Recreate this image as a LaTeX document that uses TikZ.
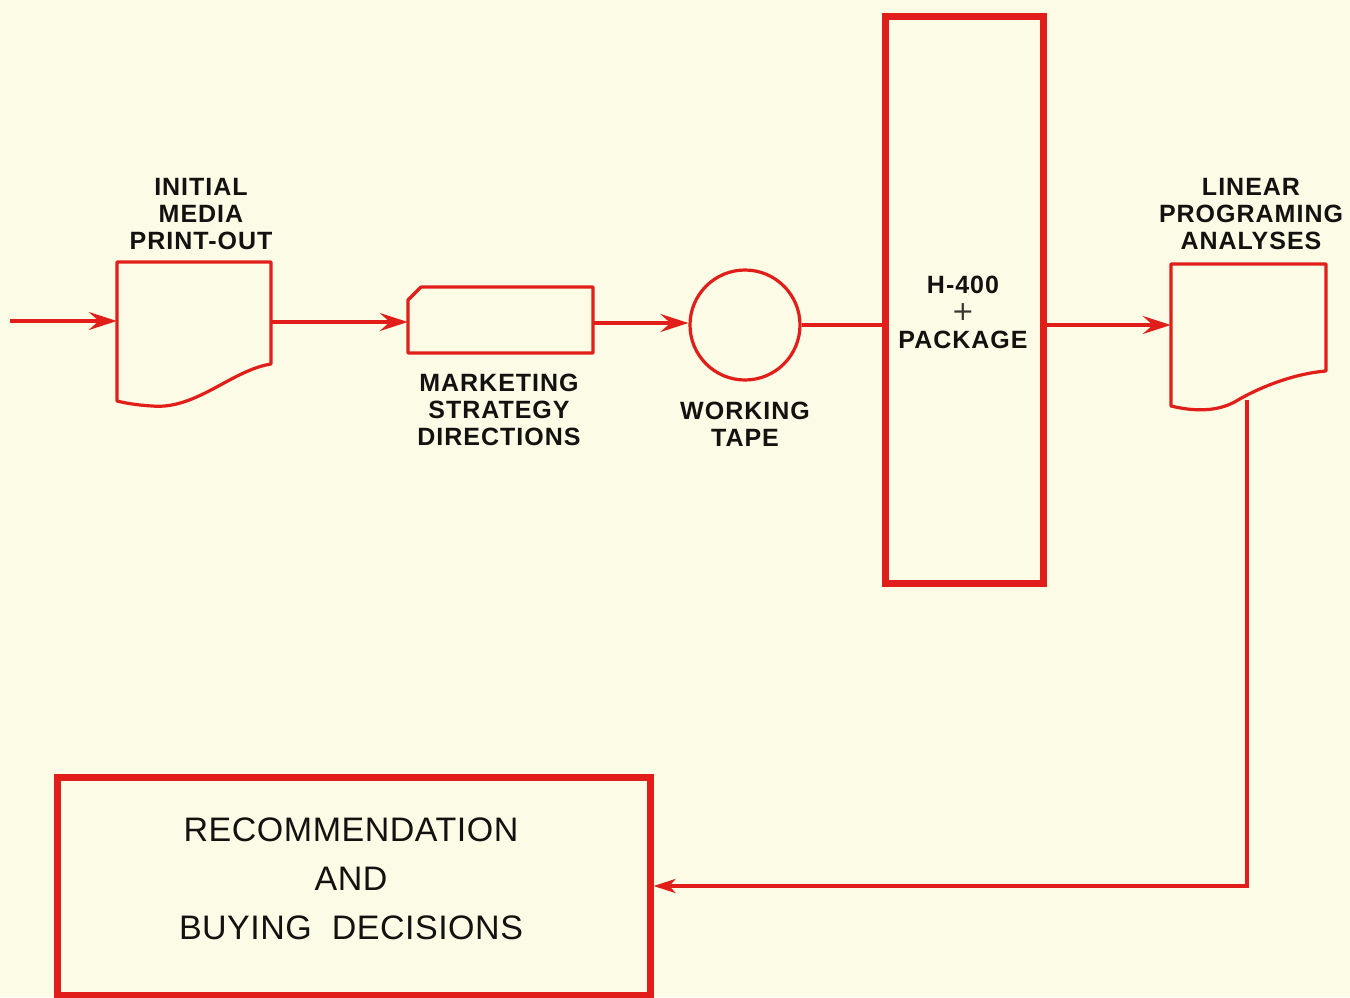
\documentclass[tikz,border=0pt]{standalone}
\usepackage{fontspec}
\setmainfont{Liberation Sans}
\newfontfamily\lblfont[LetterSpace=4]{Liberation Sans}
\newfontfamily\bigfont[LetterSpace=1.5]{Liberation Sans}
\newfontfamily\thinfont{DejaVu Sans}
\usetikzlibrary{arrows.meta}
\definecolor{paper}{HTML}{FCFBE6}
\definecolor{flowred}{HTML}{E11E19}
\definecolor{ink}{HTML}{141210}
\begin{document}
\begin{tikzpicture}[x=1pt,y=-1pt,
  thinline/.style={draw=flowred,line width=3.2pt},
  thickline/.style={draw=flowred,line width=7pt},
  flowarrow/.style={thinline,-{Stealth[length=28pt,width=18pt,inset=10pt]}},
  backarrow/.style={thinline,-{Stealth[length=22pt,width=14pt,inset=6pt]}},
  lbl/.style={text=ink,align=center,font=\lblfont\fontsize{25}{27}\selectfont\bfseries,inner sep=0pt},
  bigtxt/.style={text=ink,align=center,font=\bigfont\fontsize{34}{49}\selectfont,inner sep=0pt},
  ghost/.style={rectangle,inner sep=0pt,draw=none}]
\useasboundingbox (0,0) rectangle (1350,997);
\fill[paper] (0,0) rectangle (1350,997);

% --- Initial media print-out (document shape)
\node[ghost,minimum width=154pt,minimum height=120pt] (doc1) at (194,322) {};
\draw[thinline,line join=round] (117,262) -- (271,262) -- (271,364)
  .. controls (232,370) and (196,410) .. (152,406)
  .. controls (136,405) and (125,403) .. (117,401) -- cycle;
\node[lbl] (doc1lbl) at (201,214) {INITIAL\\MEDIA\\PRINT-OUT};
\coordinate (start) at (10,321);

% --- Marketing strategy directions (card shape)
\node[ghost,minimum width=185pt,minimum height=66pt] (mkt) at (500.5,320) {};
\draw[thinline,line join=round] (408,300) -- (421,287) -- (593,287) -- (593,353) -- (408,353) -- cycle;
\node[lbl] (mktlbl) at (499,410) {MARKETING\\STRATEGY\\DIRECTIONS};

% --- Working tape
\node[circle,thinline,minimum size=110pt,inner sep=0pt] (tape) at (745,325) {};
\node[lbl] (tapelbl) at (745,424) {WORKING\\TAPE};

% --- H-400 + package
\node[rectangle,thickline,minimum width=158pt,minimum height=567pt,inner sep=0pt] (h400) at (964,299.5) {};
\node[lbl] (h400a) at (963,285) {H-400};
\node[text=ink!85,inner sep=0pt,font=\thinfont\fontsize{27}{27}\selectfont] (plus) at (963,312) {+};
\node[lbl] (h400b) at (963,340) {PACKAGE};

% --- Linear programing analyses (document shape)
\node[ghost,minimum width=155pt,minimum height=122pt] (doc2) at (1248.5,325) {};
\draw[thinline,line join=round] (1171,264) -- (1326,264) -- (1326,371)
  .. controls (1290,374) and (1255,390) .. (1238,400)
  .. controls (1222,410) and (1200,413) .. (1171,406) -- cycle;
\node[lbl] (doc2lbl) at (1251,214) {LINEAR\\PROGRAMING\\ANALYSES};
\coordinate (doc2out) at (1247,400);

% --- Recommendation box
\node[rectangle,thickline,minimum width=593pt,minimum height=218pt,inner sep=0pt] (rec) at (353.5,886) {};
\node[bigtxt] (rectxt) at (351,879) {RECOMMENDATION\\AND\\BUYING\ \ DECISIONS};

% --- Connectors
\draw[flowarrow] (start) -- (start -| doc1.west);
\draw[flowarrow] (doc1.east) -- (doc1.east -| mkt.west);
\draw[flowarrow] (mkt.east |- 0,323) -- (tape.west |- 0,323);
\draw[thinline] (tape.east) -- (tape.east -| h400.west);
\draw[flowarrow] (doc2.west -| h400.east) -- (doc2.west);
\draw[backarrow] (doc2out) |- (rec.east);
\end{tikzpicture}
\end{document}
